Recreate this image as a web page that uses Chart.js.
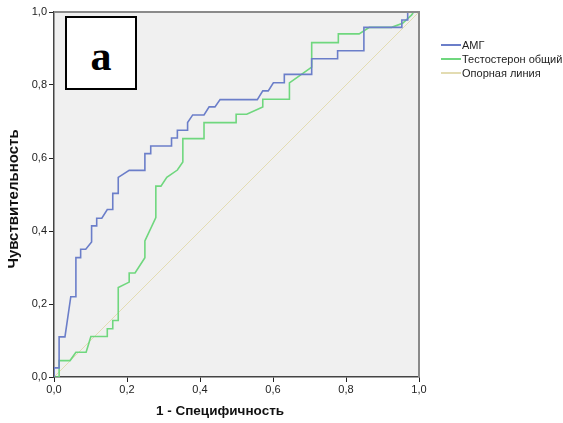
<!DOCTYPE html>
<html>
<head>
<meta charset="utf-8">
<script src="https://cdn.jsdelivr.net/npm/chart.js@4"></script>
<style>
  body { margin: 0; background: #fff; }
  #wrap { position: relative; width: 563px; height: 423px; }
  #panel {
    position: absolute; left: 65px; top: 16px; width: 68px; height: 70px;
    border: 2px solid #000; background: #fff;
    font: bold 42px "Liberation Serif", serif; text-align: center; line-height: 76px;
  }
  #legend { position: absolute; left: 441px; top: 38px; font: 11px "Liberation Sans", Arial, sans-serif; color: #222; }
  #legend div { height: 14px; display: flex; align-items: center; }
  #legend span.swatch { display: inline-block; width: 20px; height: 2px; margin-right: 1px; }
</style>
</head>
<body>
<div id="wrap">
  <canvas id="roc" width="563" height="423"></canvas>
  <div id="panel">а</div>
  <div id="legend"></div>
</div>
<script>
const seriesNames = ['АМГ', 'Тестостерон общий', 'Опорная линия'];
const seriesColors = ['#6b7ec9', '#6fd77e', '#e3dcb2'];
const xTitle = '1 - Специфичность';
const yTitle = 'Чувствительность';

const amgX = [0, 0, 0.014, 0.014, 0.03, 0.046, 0.06, 0.06, 0.073, 0.073, 0.087, 0.103, 0.103, 0.117, 0.117, 0.131, 0.146, 0.161, 0.161, 0.176, 0.176, 0.206, 0.249, 0.249, 0.265, 0.265, 0.322, 0.322, 0.338, 0.338, 0.366, 0.366, 0.38, 0.411, 0.425, 0.441, 0.455, 0.557, 0.572, 0.587, 0.601, 0.631, 0.631, 0.706, 0.706, 0.777, 0.777, 0.849, 0.849, 0.953, 0.953, 0.969, 0.969, 1];
const amgY = [0, 0.025, 0.025, 0.11, 0.11, 0.22, 0.22, 0.327, 0.327, 0.35, 0.35, 0.37, 0.414, 0.414, 0.435, 0.435, 0.459, 0.459, 0.503, 0.503, 0.547, 0.566, 0.566, 0.612, 0.612, 0.633, 0.633, 0.655, 0.655, 0.676, 0.676, 0.697, 0.718, 0.718, 0.74, 0.74, 0.76, 0.76, 0.784, 0.784, 0.806, 0.806, 0.829, 0.829, 0.872, 0.872, 0.894, 0.894, 0.958, 0.958, 0.978, 0.978, 1, 1];

const testX = [0, 0.014, 0.014, 0.044, 0.06, 0.088, 0.101, 0.146, 0.146, 0.161, 0.161, 0.176, 0.176, 0.206, 0.206, 0.222, 0.249, 0.249, 0.279, 0.279, 0.293, 0.309, 0.338, 0.353, 0.353, 0.411, 0.411, 0.499, 0.499, 0.528, 0.572, 0.572, 0.645, 0.645, 0.706, 0.706, 0.779, 0.779, 0.836, 0.864, 0.925, 0.955, 0.98, 0.985, 1];
const testY = [0, 0, 0.045, 0.045, 0.068, 0.068, 0.111, 0.111, 0.132, 0.132, 0.155, 0.155, 0.245, 0.26, 0.285, 0.285, 0.327, 0.373, 0.437, 0.523, 0.523, 0.547, 0.567, 0.589, 0.653, 0.653, 0.697, 0.697, 0.72, 0.72, 0.74, 0.761, 0.761, 0.806, 0.849, 0.916, 0.916, 0.94, 0.94, 0.958, 0.958, 0.969, 0.992, 1, 1];

const refX = [0, 1];
const refY = [0, 1];

const axisTicks = [0, 0.2, 0.4, 0.6, 0.8, 1.0];

function toPoints(xs, ys) {
  return xs.map((x, i) => ({ x: x, y: ys[i] }));
}

// grey plot background, grey frame on top/right, axis titles
const plotFrame = {
  id: 'plotFrame',
  beforeDraw(chart) {
    const { ctx, chartArea: a } = chart;
    ctx.save();
    ctx.fillStyle = '#f0f0f0';
    ctx.fillRect(a.left, a.top, a.right - a.left, a.bottom - a.top);
    ctx.restore();
  },
  afterDraw(chart) {
    const { ctx, chartArea: a } = chart;
    ctx.save();
    ctx.strokeStyle = '#8a8a8a';
    ctx.lineWidth = 2;
    ctx.beginPath();
    ctx.moveTo(a.left, a.top);
    ctx.lineTo(a.right, a.top);
    ctx.lineTo(a.right, a.bottom);
    ctx.stroke();

    ctx.fillStyle = '#111';
    ctx.textAlign = 'center';
    ctx.textBaseline = 'middle';
    ctx.font = 'bold 13.5px "Liberation Sans", Arial, sans-serif';
    ctx.fillText(xTitle, 220, 411);
    ctx.translate(14, 199);
    ctx.rotate(-Math.PI / 2);
    ctx.font = 'bold 15px "Liberation Sans", Arial, sans-serif';
    ctx.fillText(yTitle, 0, 0);
    ctx.restore();
  }
};

const fmt = v => Number(v).toFixed(1).replace('.', ',');
const tickFont = { family: '"Liberation Sans", Arial, sans-serif', size: 11 };

const chart = new Chart(document.getElementById('roc'), {
  type: 'line',
  data: {
    datasets: [
      { label: seriesNames[0], data: toPoints(amgX, amgY), borderColor: seriesColors[0], borderWidth: 1.6 },
      { label: seriesNames[1], data: toPoints(testX, testY), borderColor: seriesColors[1], borderWidth: 1.6 },
      { label: seriesNames[2], data: toPoints(refX, refY), borderColor: seriesColors[2], borderWidth: 1 }
    ]
  },
  options: {
    responsive: false,
    animation: false,
    elements: { point: { radius: 0 }, line: { tension: 0 } },
    layout: { padding: { top: 12, right: 144, left: 0, bottom: 0 } },
    plugins: { legend: { display: false }, tooltip: { enabled: false } },
    scales: {
      x: {
        type: 'linear', min: 0, max: 1,
        afterBuildTicks: s => { s.ticks = axisTicks.map(v => ({ value: v })); },
        afterFit: s => { s.height = 46; },
        grid: { drawOnChartArea: false, tickLength: 5, color: '#222' },
        border: { color: '#444', width: 1.5 },
        ticks: { callback: fmt, color: '#222', font: tickFont, padding: 1, maxRotation: 0 }
      },
      y: {
        type: 'linear', min: 0, max: 1,
        afterBuildTicks: s => { s.ticks = axisTicks.map(v => ({ value: v })); },
        afterFit: s => { s.width = 54; },
        grid: { drawOnChartArea: false, tickLength: 5, color: '#222' },
        border: { color: '#444', width: 1.5 },
        ticks: { callback: fmt, color: '#222', font: tickFont, padding: 2 }
      }
    }
  },
  plugins: [plotFrame]
});

const legend = document.getElementById('legend');
chart.data.datasets.forEach(ds => {
  const row = document.createElement('div');
  row.innerHTML = `<span class="swatch" style="background:${ds.borderColor}"></span>${ds.label}`;
  legend.appendChild(row);
});
</script>
</body>
</html>
